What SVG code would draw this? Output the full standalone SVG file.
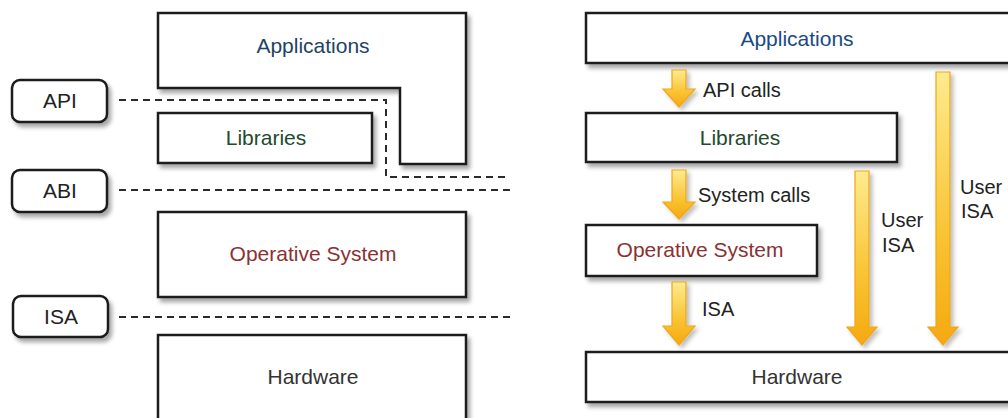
<svg xmlns="http://www.w3.org/2000/svg" width="1008" height="418" viewBox="0 0 1008 418">
<style>
.box{fill:#fff;stroke:#1a1a1a;stroke-width:2.5;filter:url(#sh)}
.lab{fill:#fff;stroke:#1a1a1a;stroke-width:2.5;filter:url(#sh)}
.dash{fill:none;stroke:#2a2a2a;stroke-width:2;stroke-dasharray:7 5}
.t{font-family:"Liberation Sans",Arial,sans-serif;font-size:21px;text-anchor:middle}
.tl{font-family:"Liberation Sans",Arial,sans-serif;font-size:20px;fill:#222}
.arr{fill:url(#g);stroke:#f0a51c;stroke-width:1.2;filter:url(#sh2)}
</style>
<defs>
<filter id="sh" x="-10%" y="-10%" width="130%" height="140%">
<feDropShadow dx="3" dy="4" stdDeviation="2" flood-color="#000" flood-opacity="0.35"/>
</filter>
<filter id="sh2" x="-50%" y="-10%" width="200%" height="130%">
<feDropShadow dx="3" dy="3" stdDeviation="2" flood-color="#000" flood-opacity="0.25"/>
</filter>
<linearGradient id="g" x1="0" y1="0" x2="0" y2="1">
<stop offset="0" stop-color="#fdeb8e"/>
<stop offset="0.6" stop-color="#f9c333"/>
<stop offset="1" stop-color="#f5a90f"/>
</linearGradient>
</defs>

<g id="left-applications">
<path class="box" d="M158,13 H466 V164 H400 V88 H158 Z"/>
<text class="t" x="313" y="53" fill="#1d4466">Applications</text>
</g>
<g id="left-libraries">
<rect class="box" x="158" y="113" width="214" height="50"/>
<text class="t" x="266" y="145" fill="#1f4a2e">Libraries</text>
</g>
<g id="left-os">
<rect class="box" x="158" y="212" width="308" height="85"/>
<text class="t" x="313" y="261" fill="#8a3232">Operative System</text>
</g>
<g id="left-hardware">
<rect class="box" x="158" y="335" width="308" height="100"/>
<text class="t" x="313" y="384" fill="#333">Hardware</text>
</g>

<g id="label-api">
<rect class="lab" x="12" y="80" width="95" height="42" rx="8"/>
<text class="t" x="60" y="108" fill="#222">API</text>
</g>
<g id="label-abi">
<rect class="lab" x="12" y="170" width="95" height="42" rx="8"/>
<text class="t" x="60" y="198" fill="#222">ABI</text>
</g>
<g id="label-isa">
<rect class="lab" x="13" y="296" width="95" height="41" rx="8"/>
<text class="t" x="61" y="324" fill="#222">ISA</text>
</g>

<g id="connectors">
<path class="dash" d="M119,100 H386 V177 H510"/>
<path class="dash" d="M119,190 H510"/>
<path class="dash" d="M119,317 H510"/>
</g>

<g id="right-applications">
<rect class="box" x="586" y="13" width="440" height="50"/>
<text class="t" x="797" y="46" fill="#1a4a86">Applications</text>
</g>
<g id="right-libraries">
<rect class="box" x="586" y="113" width="311" height="49"/>
<text class="t" x="740" y="145" fill="#1f4a2e">Libraries</text>
</g>
<g id="right-os">
<rect class="box" x="586" y="225" width="231" height="51"/>
<text class="t" x="700" y="257" fill="#8a3232">Operative System</text>
</g>
<g id="right-hardware">
<rect class="box" x="586" y="352" width="440" height="50"/>
<text class="t" x="797" y="384" fill="#333">Hardware</text>
</g>

<g id="arrows">
<path class="arr" d="M672,70 H686 V89 H695 L679,107 L663,89 H672 Z"/>
<path class="arr" d="M672,170 H686 V202 H695 L679,219 L663,202 H672 Z"/>
<path class="arr" d="M672,282 H686 V326 H695 L679,345 L663,326 H672 Z"/>
<path class="arr" d="M855,171 H869 V327 H877 L862,345 L847,327 H855 Z"/>
<path class="arr" d="M936,72 H950 V327 H958 L943,345 L928,327 H936 Z"/>
</g>

<g id="arrow-labels">
<text class="tl" x="703" y="97">API calls</text>
<text class="tl" x="698" y="202">System calls</text>
<text class="tl" x="702" y="316">ISA</text>
<text class="tl" x="881" y="227">User</text>
<text class="tl" x="882" y="252">ISA</text>
<text class="tl" x="960" y="194">User</text>
<text class="tl" x="961" y="218">ISA</text>
</g>
</svg>
